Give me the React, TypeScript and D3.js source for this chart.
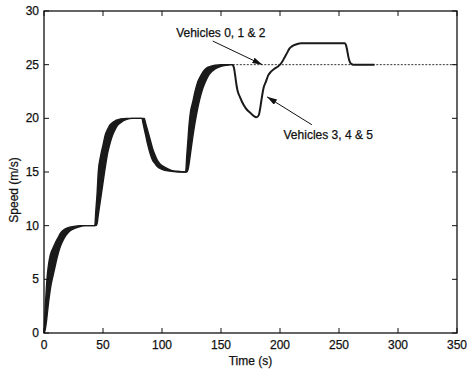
import React from "react";
import * as d3 from "d3";

// time grid for the first part (all six vehicles bunched together)
const timeA = [
  0, 1, 2, 3, 4, 5, 6, 8, 10, 12, 14, 16, 18, 20, 25, 30, 35, 40, 42, 43, 44, 45, 46, 48, 50, 52,
  54, 56, 58, 60, 62, 65, 70, 75, 80, 83, 84, 85, 86, 88, 90, 92, 94, 96, 98, 100, 105, 110, 115,
  119, 120, 121, 122, 123, 124, 126, 128, 130, 132, 134, 136, 138, 140, 145, 150, 155, 160,
];
// leading edge of the bundle (vehicle 0)
const speedFront = [
  0, 2.2, 4.2, 5.6, 6.5, 7.1, 7.5, 8.0, 8.5, 8.9, 9.3, 9.55, 9.7, 9.8, 9.93, 10, 10, 10, 10, 10,
  11.5, 13, 15, 16.5, 17.5, 18.5, 19, 19.4, 19.6, 19.75, 19.85, 19.95, 20, 20, 20, 20, 19.5, 19,
  18.5, 17.5, 16.7, 16.1, 15.8, 15.5, 15.35, 15.25, 15.1, 15.05, 15, 15, 15, 16.5, 18, 19.5, 20.5,
  21.5, 22.5, 23.3, 23.8, 24.2, 24.5, 24.7, 24.8, 24.95, 25, 25, 25,
];
// trailing edge of the bundle (vehicle 5)
const speedRear = [
  0, 0.3, 1, 2, 3, 3.8, 4.5, 5.5, 6.5, 7.4, 8.1, 8.6, 9, 9.3, 9.7, 9.9, 10, 10, 10, 10, 10, 10.2,
  11, 12.5, 14, 15.5, 16.8, 17.7, 18.4, 18.9, 19.3, 19.6, 19.9, 20, 20, 20, 20, 20, 19.6, 18.8, 18,
  17.2, 16.6, 16.1, 15.8, 15.6, 15.3, 15.1, 15.05, 15, 15, 15, 15.2, 15.8, 16.6, 18.2, 19.6, 20.8,
  21.8, 22.6, 23.2, 23.7, 24.1, 24.6, 24.85, 24.95, 25,
];

// vehicles 3, 4 & 5 after t = 160 s
const time345 = [
  160, 161, 162, 163, 164, 166, 168, 170, 172, 175, 178, 180, 182, 183, 184, 185, 186, 188, 190,
  192, 195, 198, 200, 202, 204, 206, 208, 210, 214, 218, 222, 240, 255, 256, 257, 258, 259, 260,
  262, 280,
];
const speed345 = [
  25, 24.7, 24.0, 23.2, 22.6, 22.0, 21.5, 21.1, 20.8, 20.5, 20.2, 20.1, 20.3, 20.8, 21.5, 22.2,
  22.8, 23.4, 24, 24.3, 24.6, 24.8, 25, 25.3, 25.7, 26.1, 26.5, 26.7, 26.9, 27, 27, 27, 27, 26.8,
  26.3, 25.7, 25.3, 25.1, 25, 25,
];

// vehicles 0, 1 & 2 after t = 160 s
const time012 = [160, 350];
const speed012 = [25, 25];

const xTicks = [0, 50, 100, 150, 200, 250, 300, 350];
const yTicks = [0, 5, 10, 15, 20, 25, 30];

// annotations: [label, text t, text v, tail t, tail v, tip t, tip v]
const notes: [string, number, number, number, number, number, number][] = [
  ["Vehicles 0, 1 & 2", 112, 27.6, 143, 27.2, 185, 25],
  ["Vehicles 3, 4 & 5", 203, 18.1, 227, 19.4, 189, 22],
];

export default function App() {
  const width = 467;
  const height = 370;
  const m = { left: 44, right: 10, top: 11, bottom: 37 };
  const x = d3.scaleLinear().domain([0, 350]).range([m.left, width - m.right]);
  const y = d3.scaleLinear().domain([0, 30]).range([height - m.bottom, m.top]);
  const font = "'Liberation Sans', Arial, sans-serif";

  const band = d3
    .area<number>()
    .x((d, i) => x(timeA[i]))
    .y0((d, i) => y(speedRear[i]))
    .y1((d) => y(d))
    .curve(d3.curveMonotoneX);
  const line = d3
    .line<[number, number]>()
    .x((d) => x(d[0]))
    .y((d) => y(d[1]))
    .curve(d3.curveMonotoneX);

  const front = timeA.map((t, i) => [t, speedFront[i]] as [number, number]);
  const rear = timeA.map((t, i) => [t, speedRear[i]] as [number, number]);
  const v345 = time345.map((t, i) => [t, speed345[i]] as [number, number]);
  const v012 = time012.map((t, i) => [t, speed012[i]] as [number, number]);

  const x0 = x(0), x1 = x(350), y0 = y(0), y1 = y(30);
  const txt = { fontSize: 12, fill: "#111", stroke: "#111", strokeWidth: 0.25 };

  return (
    <svg
      width={width}
      height={height}
      style={{ position: "absolute", left: 0, top: 0, background: "#fff" }}
      fontFamily={font}
    >
      <defs>
        <marker id="arr" viewBox="0 0 10 6" refX="10" refY="3" markerWidth="10" markerHeight="6" orient="auto" markerUnits="userSpaceOnUse">
          <path d="M0,0 L10,3 L0,6 Z" fill="#111" />
        </marker>
      </defs>

      {/* data */}
      <path d={band(speedFront) || ""} fill="#1a1a1a" />
      <path d={line(front) || ""} fill="none" stroke="#1a1a1a" strokeWidth={1.4} />
      <path d={line(rear) || ""} fill="none" stroke="#1a1a1a" strokeWidth={1.4} />
      <path d={line(v012) || ""} fill="none" stroke="#333" strokeWidth={1} strokeDasharray="2,1.5" />
      <path d={line(v345) || ""} fill="none" stroke="#1a1a1a" strokeWidth={2} />

      {/* frame */}
      <rect x={x0} y={y1} width={x1 - x0} height={y0 - y1} fill="none" stroke="#111" strokeWidth={1.3} />
      {xTicks.map((t) => (
        <g key={"x" + t}>
          <line x1={x(t)} x2={x(t)} y1={y0} y2={y0 - 5} stroke="#111" />
          <line x1={x(t)} x2={x(t)} y1={y1} y2={y1 + 5} stroke="#111" />
          <text x={x(t)} y={y0 + 16} textAnchor="middle" {...txt}>
            {t}
          </text>
        </g>
      ))}
      {yTicks.map((v) => (
        <g key={"y" + v}>
          <line x1={x0} x2={x0 + 5} y1={y(v)} y2={y(v)} stroke="#111" />
          <line x1={x1} x2={x1 - 5} y1={y(v)} y2={y(v)} stroke="#111" />
          <text x={x0 - 5} y={y(v) + 4} textAnchor="end" {...txt}>
            {v}
          </text>
        </g>
      ))}
      <text x={(x0 + x1) / 2} y={365} textAnchor="middle" {...txt}>
        Time (s)
      </text>
      <text transform={`translate(18,190) rotate(-90)`} textAnchor="middle" {...txt}>
        Speed (m/s)
      </text>

      {/* annotations */}
      {notes.map(([label, tt, tv, ax, av, bx, bv]) => (
        <g key={label}>
          <text x={x(tt)} y={y(tv)} {...txt}>
            {label}
          </text>
          <line x1={x(ax)} y1={y(av)} x2={x(bx)} y2={y(bv)} stroke="#111" strokeWidth={1} markerEnd="url(#arr)" />
        </g>
      ))}
    </svg>
  );
}
